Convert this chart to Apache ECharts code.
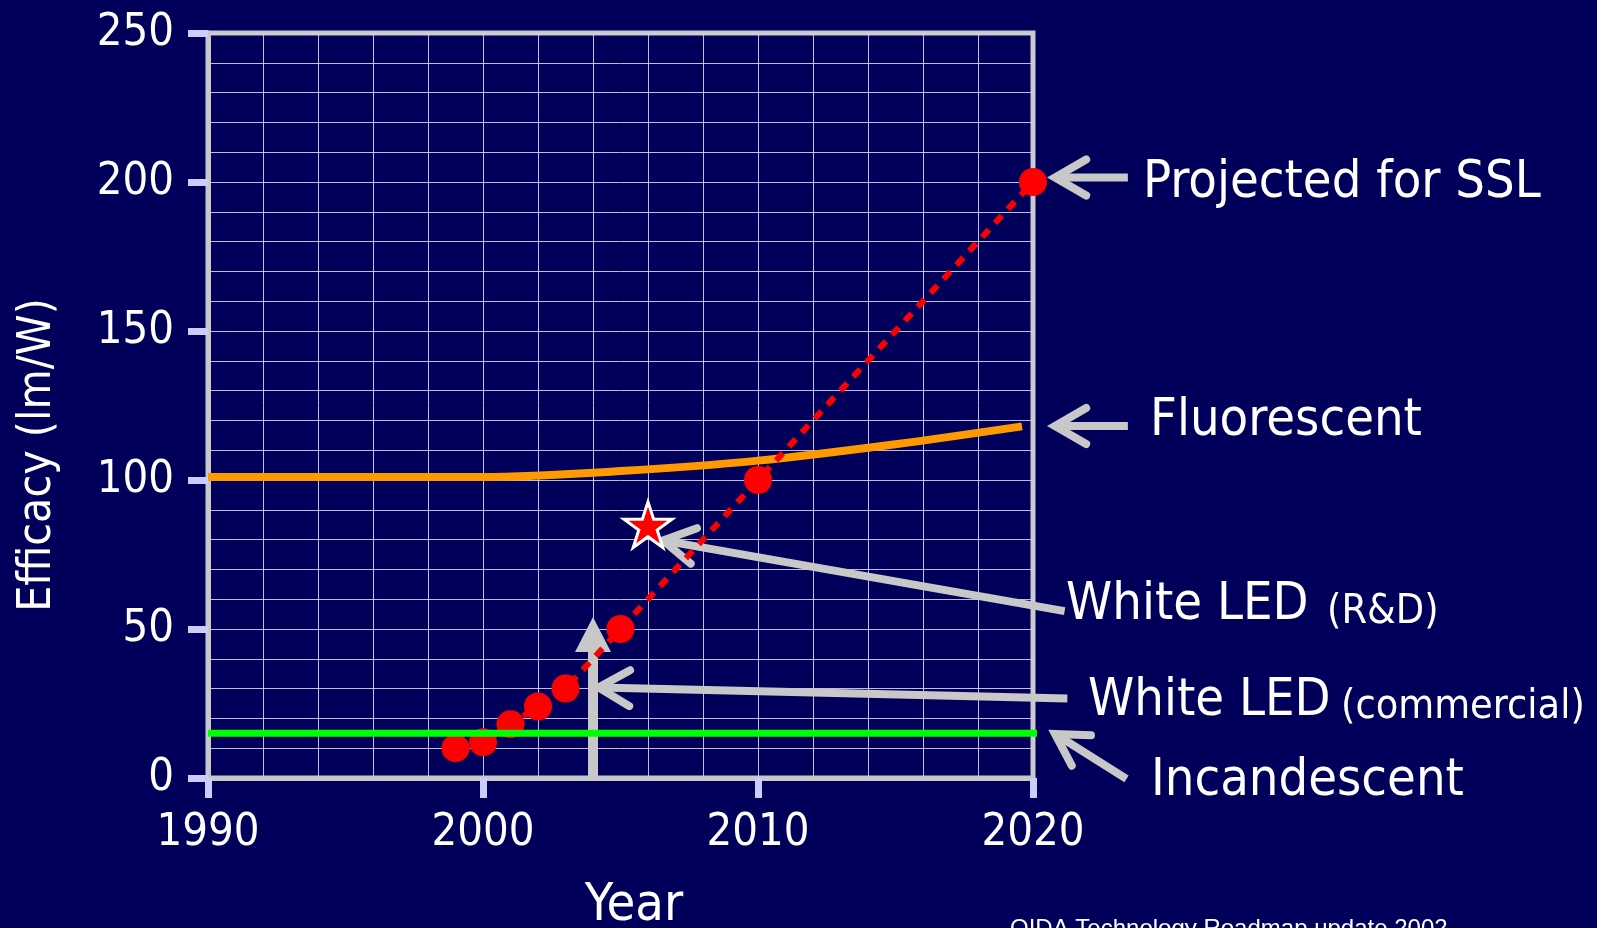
<!DOCTYPE html>
<html>
<head>
<meta charset="utf-8">
<title>Efficacy of light sources</title>
<script src="https://cdn.jsdelivr.net/npm/echarts@6/dist/echarts.min.js"></script>
<style>
  html, body { margin: 0; padding: 0; background: #00005a; }
  #main { width: 1597px; height: 928px; }
</style>
</head>
<body>
<div id="main"></div>
<script>
// ---- data ----
const ledYears = [1999, 2000, 2001, 2002, 2003, 2005, 2010, 2020];
const ledEfficacy = [10, 12, 18, 24, 30, 50, 100, 200];

const rdYear = [2006];
const rdEfficacy = [85];

const fluorYears = [1990, 2000, 2005, 2010, 2015, 2019.6];
const fluorEfficacy = [101, 101, 103, 106.5, 112, 118];

const incYears = [1990, 2020.2];
const incEfficacy = [15, 15];

const xTicks = [1990, 2000, 2010, 2020];
const yTicks = [0, 50, 100, 150, 200, 250];

// annotation arrows, in axis units (year, lm/W)
const calloutArrows = [
  { tip: [2020.8, 201.5], tail: [2023.45, 201.5] },
  { tip: [2020.8, 118.1], tail: [2023.45, 118.1] },
  { tip: [2006.55, 79.7], tail: [2021.15, 56.0] },
  { tip: [2004.2, 30.4], tail: [2021.25, 26.7] },
  { tip: [2020.8, 14.8], tail: [2023.4, -0.3] }
];
const commercialMarker = { base: [2004, 0], tip: [2004, 54] };

const FONT = "'DejaVu Sans Condensed', 'DejaVu Sans', sans-serif";
const GRAY = '#c8c8c8';
const TICK = '#ccccff';
const GRID = 'rgba(210,210,235,0.9)';

const pair = (xs, ys) => xs.map((x, i) => [x, ys[i]]);

const starPath = 'path://M50,0 L61.2,34.5 L97.6,34.5 L68.2,55.9 L79.4,90.5 L50,69.1 L20.6,90.5 L31.8,55.9 L2.4,34.5 L38.8,34.5 Z';

const chart = echarts.init(document.getElementById('main'));

chart.setOption({
  backgroundColor: '#00005a',
  animation: false,
  grid: {
    left: 208, top: 33, right: 564, bottom: 150,
    show: true, borderColor: GRAY, borderWidth: 5, backgroundColor: 'transparent'
  },
  xAxis: {
    type: 'value',
    min: 1990, max: 2020, interval: 10,
    axisLine: { show: true, lineStyle: { color: GRAY, width: 5 } },
    axisTick: { show: true, inside: false, length: 20, lineStyle: { color: TICK, width: 7 } },
    axisLabel: {
      show: true, color: '#ffffff', fontFamily: FONT, fontSize: 45, margin: 33,
      formatter: v => xTicks.includes(v) ? String(v) : ''
    },
    splitLine: { show: true, lineStyle: { color: GRID, width: 1 } },
    minorTick: { show: false, splitNumber: 5 },
    minorSplitLine: { show: true, lineStyle: { color: GRID, width: 1 } }
  },
  yAxis: {
    type: 'value',
    min: 0, max: 250, interval: 50,
    axisLine: { show: true, lineStyle: { color: GRAY, width: 5 } },
    axisTick: { show: true, inside: false, length: 20, lineStyle: { color: TICK, width: 7 } },
    axisLabel: {
      show: true, color: '#ffffff', fontFamily: FONT, fontSize: 45, margin: 34,
      padding: [0, 0, 10, 0],
      formatter: v => yTicks.includes(v) ? String(v) : ''
    },
    splitLine: { show: true, lineStyle: { color: GRID, width: 1 } },
    minorTick: { show: false, splitNumber: 5 },
    minorSplitLine: { show: true, lineStyle: { color: GRID, width: 1 } }
  },
  series: [
    {
      name: 'Fluorescent',
      type: 'line',
      data: pair(fluorYears, fluorEfficacy),
      smooth: 0.3,
      showSymbol: false,
      lineStyle: { color: '#ff9900', width: 8, cap: 'butt' },
      z: 3
    },
    {
      name: 'White LED',
      type: 'line',
      data: pair(ledYears, ledEfficacy),
      symbol: 'circle',
      symbolSize: 28,
      itemStyle: { color: '#ff0000', opacity: 1 },
      lineStyle: { color: '#ff0000', width: 6, type: [10, 9] },
      clip: false,
      z: 4
    },
    {
      name: 'White LED (R&D)',
      type: 'scatter',
      data: pair(rdYear, rdEfficacy),
      symbol: starPath,
      symbolSize: 48,
      symbolKeepAspect: true,
      itemStyle: { color: '#ff0000', borderColor: '#ffffff', borderWidth: 3, opacity: 1 },
      z: 5
    },
    {
      name: 'Incandescent',
      type: 'line',
      data: pair(incYears, incEfficacy),
      showSymbol: false,
      clip: false,
      lineStyle: { color: '#00ff00', width: 7, cap: 'butt' },
      z: 6
    }
  ]
});

// ---- callouts: arrows placed through the axis scales ----
const px = p => chart.convertToPixel({ gridIndex: 0 }, p);

function chevronArrow(a) {
  const t = px(a.tip), e = px(a.tail);
  const dx = e[0] - t[0], dy = e[1] - t[1];
  const len = Math.hypot(dx, dy);
  const ux = dx / len, uy = dy / len;
  const L = 36, ang = Math.PI / 6;
  const rot = s => [
    t[0] + L * (ux * Math.cos(s * ang) - uy * Math.sin(s * ang)),
    t[1] + L * (ux * Math.sin(s * ang) + uy * Math.cos(s * ang))
  ];
  return [
    { type: 'line', z: 1, shape: { x1: t[0] + ux * 2, y1: t[1] + uy * 2, x2: e[0], y2: e[1] },
      style: { stroke: GRAY, lineWidth: 8, lineCap: 'butt' } },
    { type: 'polyline', z: 1, shape: { points: [rot(1), t, rot(-1)] },
      style: { stroke: GRAY, lineWidth: 8, lineCap: 'round', lineJoin: 'miter', fill: null } }
  ];
}

const graphics = [];
calloutArrows.forEach(a => graphics.push(...chevronArrow(a)));

// vertical marker for the commercial white LED
(function () {
  const b = px(commercialMarker.base), t = px(commercialMarker.tip);
  const headLen = 35, headHalf = 18;
  graphics.push({ type: 'line', z: 1, shape: { x1: b[0], y1: b[1], x2: t[0], y2: t[1] + headLen - 1 },
    style: { stroke: GRAY, lineWidth: 10 } });
  graphics.push({ type: 'polygon', z: 1,
    shape: { points: [[t[0], t[1]], [t[0] - headHalf, t[1] + headLen], [t[0] + headHalf, t[1] + headLen]] },
    style: { fill: GRAY } });
})();

// text labels
const txt = (text, x, y, size) => ({
  type: 'text', z: 10, x: x, y: y,
  style: { text: text, fill: '#ffffff', font: 'normal ' + size + 'px ' + FONT,
           align: 'left', verticalAlign: 'middle' }
});

graphics.push(txt('Projected for SSL', 1143, 183, 52));
graphics.push(txt('Fluorescent', 1150, 421, 52));
graphics.push(txt('White LED', 1066, 605, 52));
graphics.push(txt('(R&D)', 1327, 612, 41));
graphics.push(txt('White LED', 1088, 701, 52));
graphics.push(txt('(commercial)', 1341, 707, 41));
graphics.push(txt('Incandescent', 1151, 781, 52));

// axis titles
graphics.push({
  type: 'text', z: 10, x: 38, y: 455, rotation: Math.PI / 2,
  style: { text: 'Efficacy (lm/W)', fill: '#ffffff', font: 'normal 46px ' + FONT,
           align: 'center', verticalAlign: 'middle' }
});
graphics.push({
  type: 'text', z: 10, x: 634, y: 906,
  style: { text: 'Year', fill: '#ffffff', font: 'normal 52px ' + FONT,
           align: 'center', verticalAlign: 'middle' }
});

// source note
graphics.push({
  type: 'text', z: 10, x: 1010, y: 917,
  style: { text: 'OIDA Technology Roadmap update 2002', fill: '#ffffff',
           font: 'normal 24px "Liberation Sans", Arial, sans-serif',
           align: 'left', verticalAlign: 'top' }
});

chart.setOption({ graphic: graphics });
</script>
</body>
</html>
